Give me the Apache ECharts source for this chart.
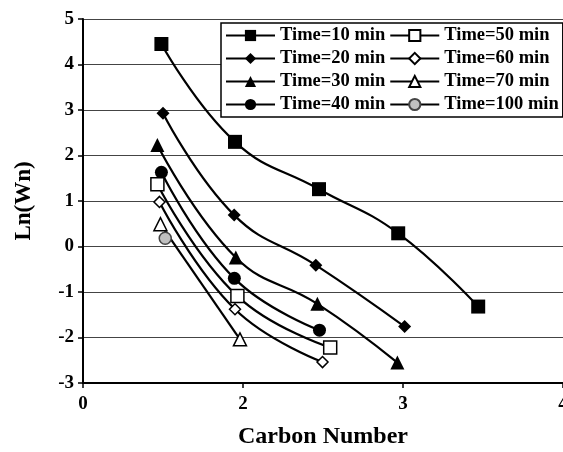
<!DOCTYPE html>
<html><head><meta charset="utf-8">
<script src="https://cdn.jsdelivr.net/npm/echarts@6/dist/echarts.min.js"></script>
<style>html,body{margin:0;padding:0;background:#fff}#c{width:563px;height:452px}</style>
</head><body><div id="c"></div>
<script>
// Tick labels
const xTickLabels = ['0', '2', '3', '4'];
// Series names
const seriesNames = ['Time=10 min','Time=20 min','Time=30 min','Time=40 min','Time=50 min','Time=60 min','Time=70 min','Time=100 min'];
// Data: [x position on axis, Ln(Wn)]
const t10 = [[0.49, 4.45], [0.95, 2.30], [1.475, 1.26], [1.97, 0.29], [2.47, -1.32]];
const t20 = [[0.50, 2.93], [0.945, 0.69], [1.455, -0.41], [2.01, -1.76]];
const t30 = [[0.465, 2.23], [0.955, -0.24], [1.465, -1.26], [1.965, -2.55]];
const t40 = [[0.49, 1.63], [0.946, -0.70], [1.478, -1.84]];
const t50 = [[0.465, 1.37], [0.965, -1.09], [1.545, -2.22]];
const t60 = [[0.478, 0.98], [0.95, -1.38], [1.497, -2.54]];
const t70 = [[0.484, 0.49], [0.981, -2.04]];
const t100 = [[0.514, 0.18]];

const FONT = 'Liberation Serif';
const dataSets = [t10, t20, t30, t40, t50, t60, t70, t100];
const symbols = ['rect', 'diamond', 'triangle', 'circle', 'rect', 'diamond', 'triangle', 'circle'];
const sizes = [14, 13, 14, 13, 13, 11, 13, 12];
const fills = ['#000', '#000', '#000', '#000', '#fff', '#fff', '#fff', '#c0c0c0'];
const borders = ['#000', '#000', '#000', '#000', '#000', '#000', '#000', '#444'];

const series = dataSets.map((d, i) => ({
  name: seriesNames[i],
  type: 'line',
  data: d,
  smooth: 0.45,
  symbol: symbols[i],
  symbolSize: sizes[i],
  showAllSymbol: true,
  lineStyle: { color: '#000', width: 2.2 },
  itemStyle: { color: fills[i], borderColor: borders[i], borderWidth: i >= 4 ? 1.5 : 0, opacity: 1 },
  emphasis: { disabled: true },
  z: 2
}));

const chart = echarts.init(document.getElementById('c'), null, { renderer: 'canvas' });
chart.setOption({
  animation: false,
  backgroundColor: '#fff',
  grid: { left: 83, top: 19, width: 480, height: 364, containLabel: false, outerBoundsMode: 'none' },
  legend: {
    data: seriesNames,
    orient: 'vertical',
    left: 221, top: 23,
    height: 88,
    padding: [3, 4, 3, 4],
    itemGap: 4,
    itemWidth: 49,
    itemHeight: 14,
    borderColor: '#000',
    borderWidth: 1.5,
    backgroundColor: '#fff',
    selectedMode: false,
    textStyle: { fontFamily: FONT, fontWeight: 'bold', fontSize: 18.5, color: '#000', lineHeight: 18 }
  },
  xAxis: {
    type: 'value', min: 0, max: 3, interval: 1,
    name: 'Carbon Number', nameLocation: 'middle', nameGap: 42,
    nameTextStyle: { fontFamily: FONT, fontWeight: 'bold', fontSize: 24, color: '#000' },
    axisLine: { show: true, onZero: false, lineStyle: { color: '#000', width: 2 } },
    axisTick: { show: true, length: 5, lineStyle: { color: '#000', width: 1.5 } },
    axisLabel: { margin: 12, fontFamily: FONT, fontWeight: 'bold', fontSize: 19, color: '#000',
      showMaxLabel: true, formatter: v => xTickLabels[Math.round(v)] },
    splitLine: { show: false }
  },
  yAxis: {
    type: 'value', min: -3, max: 5, interval: 1,
    name: 'Ln(Wn)', nameLocation: 'middle', nameGap: 47,
    nameTextStyle: { fontFamily: FONT, fontWeight: 'bold', fontSize: 23, color: '#000' },
    axisLine: { show: true, onZero: false, lineStyle: { color: '#000', width: 2 } },
    axisTick: { show: true, length: 5, lineStyle: { color: '#000', width: 1.5 } },
    axisLabel: { margin: 9, fontFamily: FONT, fontWeight: 'bold', fontSize: 19, color: '#000' },
    splitLine: { show: true, lineStyle: { color: '#444', width: 1 } }
  },
  series: series
});
</script>
</body></html>
